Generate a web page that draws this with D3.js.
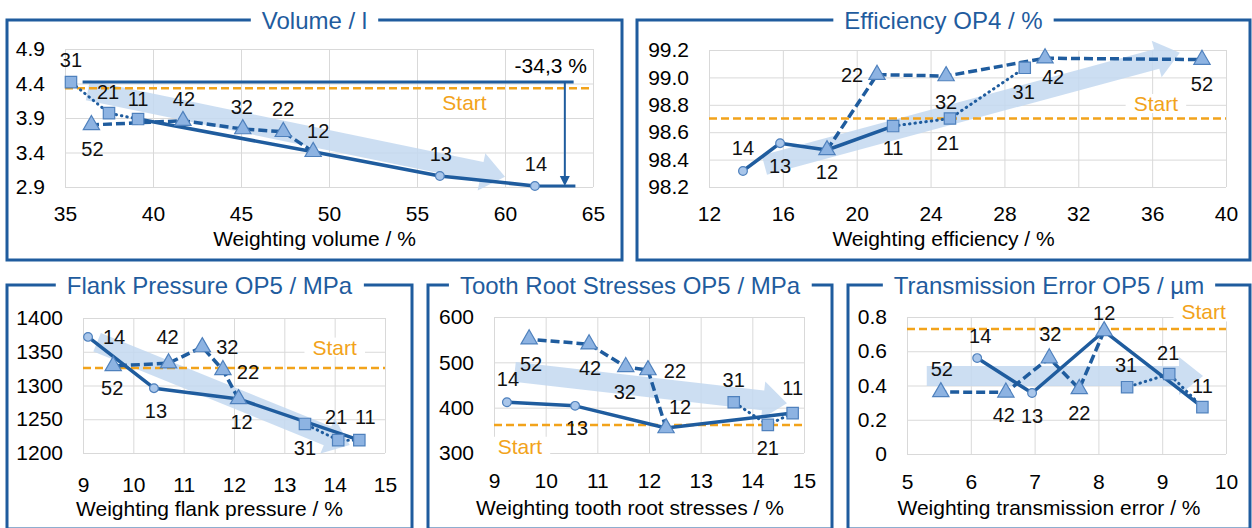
<!DOCTYPE html>
<html>
<head>
<meta charset="utf-8">
<script src="https://cdn.jsdelivr.net/npm/d3@7"></script>
<style>
  body { margin: 0; background: #fff; }
  svg { display: block; }
</style>
</head>
<body>
<svg id="chart" width="1252" height="528"></svg>
<script>
// point names: first digit = step, second digit = variant
const pointIds = ["11", "12", "13", "14", "21", "31", "22", "32", "42", "52"];
const solidPath = ["11", "12", "13", "14"];
const dottedPath = ["11", "21", "31"];
const dashedPath = ["12", "22", "32", "42", "52"];

const titles = ["Volume / l", "Efficiency OP4 / %", "Flank Pressure OP5 / MPa",
  "Tooth Root Stresses OP5 / MPa", "Transmission Error OP5 / µm"];
const axisTitles = ["Weighting volume / %", "Weighting efficiency / %", "Weighting flank pressure / %",
  "Weighting tooth root stresses / %", "Weighting transmission error / %"];

const volumeX = [39.15, 49.1, 56.3, 61.7, 37.5, 35.34, 47.4, 45.1, 41.7, 36.5];
const volumeY = [3.885, 3.41, 3.06, 2.915, 3.97, 4.42, 3.70, 3.74, 3.86, 3.80];

const effX = [21.97, 18.39, 15.85, 13.84, 25.05, 29.1, 21.1, 24.84, 30.2, 38.7];
const effY = [98.645, 98.47, 98.52, 98.317, 98.70, 99.07, 99.02, 99.01, 99.14, 99.13];

const flankX = [14.49, 12.09, 10.41, 9.1, 14.07, 13.41, 11.78, 11.37, 10.7, 9.6];
const flankY = [1219, 1280, 1296, 1372, 1219, 1243, 1323, 1357, 1333, 1329];

const rootX = [14.78, 12.33, 10.57, 9.25, 14.3, 13.64, 11.98, 11.55, 10.84, 9.68];
const rootY = [388, 355, 404, 412, 362, 412, 483, 490, 540, 551];

const teX = [9.63, 8.09, 6.96, 6.1, 9.11, 8.45, 7.70, 7.23, 6.55, 5.53];
const teY = [0.274, 0.718, 0.356, 0.56, 0.467, 0.39, 0.38, 0.56, 0.36, 0.362];

const startValues = [4.33, 98.7, 1326, 362, 0.73];

const volumeXTicks = [35, 40, 45, 50, 55, 60, 65];
const volumeYTicks = [2.9, 3.4, 3.9, 4.4, 4.9];
const effXTicks = [12, 16, 20, 24, 28, 32, 36, 40];
const effYTicks = [98.2, 98.4, 98.6, 98.8, 99.0, 99.2];
const flankXTicks = [9, 10, 11, 12, 13, 14, 15];
const flankYTicks = [1200, 1250, 1300, 1350, 1400];
const rootXTicks = [9, 10, 11, 12, 13, 14, 15];
const rootYTicks = [300, 400, 500, 600];
const teXTicks = [5, 6, 7, 8, 9, 10];
const teYTicks = [0, 0.2, 0.4, 0.6, 0.8];

// trend arrows (start / tip, in data units)
const trendFrom = [[36.3, 4.30], [15.0, 98.36], [9.28, 1364], [9.4, 479], [5.31, 0.455]];
const trendTo = [[60.0, 3.05], [37.5, 99.18], [14.3, 1212], [14.67, 410], [9.64, 0.455]];

const volumeChange = "-34,3 %";

// ---- layout ----
const FONT = "'Liberation Sans', Arial, sans-serif";
const navy = "#1f5c9e";
const orange = "#f2a31b";
const grid = "#d9d9d9";

const layout = [
  { frame: [7, 20, 622, 260], plot: [65, 49, 593, 187], tickPad: 19, titleDy: 59, start: [57.7, 4.13],
    labels: { 31: [0, -22], 21: [-1, -21], 11: [0, -20], 42: [1, -22], 52: [1, 24], 32: [-1, -22], 22: [0, -23], 12: [5, -21], 13: [1, -22], 14: [1, -22] } },
  { frame: [637, 20, 1250, 260], plot: [709, 50, 1226, 187], tickPad: 19, titleDy: 59, start: [36.2, 98.81],
    labels: { 14: [0, -23], 13: [0, 23], 12: [0, 22], 11: [0, 22], 22: [-25, 0], 32: [0, 26], 21: [-2, 24], 31: [-1, 24], 42: [8, 19], 52: [0, 24] } },
  { frame: [7, 285, 412, 529], plot: [83, 318, 385, 453], tickPad: 24, titleDy: 63, start: [14.0, 1357],
    labels: { 14: [26, 0], 52: [-1, 22], 42: [-1, -26], 32: [25, 0], 22: [25, 2], 13: [2, 23], 12: [3, 23], 31: [0, 24], 21: [-2, -23], 11: [6, -23] } },
  { frame: [428, 285, 832, 529], plot: [494, 317, 804, 453], tickPad: 20, titleDy: 62, start: [9.5, 315],
    labels: { 14: [1, -23], 52: [2, 25], 42: [1, 24], 32: [-1, 25], 22: [27, 1], 12: [14, -21], 13: [2, 22], 31: [0, -22], 21: [0, 23], 11: [0, -25] } },
  { frame: [848, 285, 1250, 529], plot: [907, 317, 1226, 454], tickPad: 20, titleDy: 61, start: [9.65, 0.83],
    labels: { 52: [1, -23], 42: [-2, 22], 13: [0, 23], 22: [0, 24], 32: [1, -24], 12: [0, -18], 14: [3, -22], 31: [-1, -22], 21: [-1, -21], 11: [0, -21] } }
];

const fmt1 = d3.format(".1f");
const panels = [
  { xs: volumeX, ys: volumeY, xTicks: volumeXTicks, yTicks: volumeYTicks, yFormat: fmt1 },
  { xs: effX, ys: effY, xTicks: effXTicks, yTicks: effYTicks, yFormat: fmt1 },
  { xs: flankX, ys: flankY, xTicks: flankXTicks, yTicks: flankYTicks, yFormat: d3.format("d") },
  { xs: rootX, ys: rootY, xTicks: rootXTicks, yTicks: rootYTicks, yFormat: d3.format("d") },
  { xs: teX, ys: teY, xTicks: teXTicks, yTicks: teYTicks, yFormat: d => d === 0 ? "0" : fmt1(d) }
];

const svg = d3.select("#chart").attr("font-family", FONT);

function arrowPoints(x0, y0, x1, y1, w, hw, hl) {
  const len = Math.hypot(x1 - x0, y1 - y0);
  const ux = (x1 - x0) / len, uy = (y1 - y0) / len;
  const nx = -uy, ny = ux;
  const bx = x1 - ux * hl, by = y1 - uy * hl;
  return [
    [x0 + nx * w / 2, y0 + ny * w / 2], [bx + nx * w / 2, by + ny * w / 2],
    [bx + nx * hw / 2, by + ny * hw / 2], [x1, y1],
    [bx - nx * hw / 2, by - ny * hw / 2], [bx - nx * w / 2, by - ny * w / 2],
    [x0 - nx * w / 2, y0 - ny * w / 2]
  ];
}

panels.forEach((p, i) => {
  const L = layout[i];
  const [fx0, fy0, fx1, fy1] = L.frame;
  const [px0, py0, px1, py1] = L.plot;
  const x = d3.scaleLinear().domain(d3.extent(p.xTicks)).range([px0, px1]);
  const y = d3.scaleLinear().domain(d3.extent(p.yTicks)).range([py1, py0]);
  const pts = pointIds.map((id, k) => ({ id: id, x: p.xs[k], y: p.ys[k] }));
  const byId = {};
  pts.forEach(d => byId[d.id] = d);

  const g = svg.append("g");

  // frame + title
  g.append("rect")
    .attr("x", fx0).attr("y", fy0)
    .attr("width", fx1 - fx0).attr("height", fy1 - fy0)
    .attr("fill", "none").attr("stroke", navy).attr("stroke-width", 3);
  const title = g.append("text")
    .attr("x", (fx0 + fx1) / 2).attr("y", fy0).attr("dy", "0.36em")
    .attr("text-anchor", "middle").attr("font-size", 24).attr("fill", navy)
    .text(titles[i]);
  const tb = title.node().getBBox();
  g.insert("rect", () => title.node())
    .attr("x", tb.x - 11).attr("y", fy0 - 4).attr("width", tb.width + 22).attr("height", 8)
    .attr("fill", "#fff");

  // grid + tick labels
  g.append("g")
    .attr("transform", "translate(0," + py1 + ")")
    .call(d3.axisBottom(x).tickValues(p.xTicks).tickSize(-(py1 - py0)).tickPadding(L.tickPad).tickFormat(d3.format("d")))
    .call(a => {
      a.attr("font-family", FONT);
      a.select(".domain").remove();
      a.selectAll("line").attr("stroke", grid);
      a.selectAll("text").attr("font-size", 21).attr("fill", "#000");
    });
  g.append("g")
    .attr("transform", "translate(" + px0 + ",0)")
    .call(d3.axisLeft(y).tickValues(p.yTicks).tickSize(-(px1 - px0)).tickPadding(20).tickFormat(p.yFormat))
    .call(a => {
      a.attr("font-family", FONT);
      a.select(".domain").remove();
      a.selectAll("line").attr("stroke", grid);
      a.selectAll("text").attr("font-size", 21).attr("fill", "#000");
    });

  g.append("text")
    .attr("x", (fx0 + fx1) / 2).attr("y", py1 + L.titleDy)
    .attr("text-anchor", "middle").attr("font-size", 21).attr("fill", "#000")
    .text(axisTitles[i]);

  // trend arrow
  const a0 = trendFrom[i], a1 = trendTo[i];
  g.append("polygon")
    .attr("points", arrowPoints(x(a0[0]), y(a0[1]), x(a1[0]), y(a1[1]), 20, 38, 24).map(q => q.join(",")).join(" "))
    .attr("fill", "#c3d8f0").attr("opacity", 0.85);

  // start line + label
  g.append("line")
    .attr("x1", px0).attr("x2", px1)
    .attr("y1", y(startValues[i])).attr("y2", y(startValues[i]))
    .attr("stroke", orange).attr("stroke-width", 2.5).attr("stroke-dasharray", "8,4");
  const st = g.append("text")
    .attr("x", x(L.start[0])).attr("y", y(L.start[1])).attr("dy", "0.36em")
    .attr("text-anchor", "middle").attr("font-size", 21).attr("fill", orange)
    .text("Start");
  const sb = st.node().getBBox();
  g.insert("rect", () => st.node())
    .attr("x", sb.x - 8).attr("y", sb.y + 2).attr("width", sb.width + 16).attr("height", sb.height - 4)
    .attr("fill", "#fff");

  // series lines
  const line = d3.line().x(d => x(d.x)).y(d => y(d.y));
  g.append("path").datum(dashedPath.map(id => byId[id]))
    .attr("d", line).attr("fill", "none").attr("stroke", navy)
    .attr("stroke-width", 3.5).attr("stroke-dasharray", "9,4");
  g.append("path").datum(dottedPath.map(id => byId[id]))
    .attr("d", line).attr("fill", "none").attr("stroke", navy)
    .attr("stroke-width", 3).attr("stroke-linecap", "round").attr("stroke-dasharray", "0.5,5");
  g.append("path").datum(solidPath.map(id => byId[id]))
    .attr("d", line).attr("fill", "none").attr("stroke", navy)
    .attr("stroke-width", 3.5).attr("stroke-linejoin", "round");

  // volume reduction annotation
  if (i === 0) {
    const top = d3.max(volumeY), bottom = d3.min(volumeY);
    const ax = x(63.4);
    g.append("line").attr("x1", x(36.0)).attr("x2", x(63.9)).attr("y1", y(top)).attr("y2", y(top))
      .attr("stroke", navy).attr("stroke-width", 3);
    g.append("line").attr("x1", x(61.7)).attr("x2", x(64.0)).attr("y1", y(bottom)).attr("y2", y(bottom))
      .attr("stroke", navy).attr("stroke-width", 3);
    g.append("line").attr("x1", ax).attr("x2", ax).attr("y1", y(top)).attr("y2", y(bottom) - 8)
      .attr("stroke", navy).attr("stroke-width", 2);
    g.append("polygon")
      .attr("points", [[ax - 5, y(bottom) - 10], [ax + 5, y(bottom) - 10], [ax, y(bottom)]].map(q => q.join(",")).join(" "))
      .attr("fill", navy);
    g.append("text").attr("x", x(62.6)).attr("y", y(4.55))
      .attr("text-anchor", "middle").attr("font-size", 21).attr("fill", "#000")
      .text(volumeChange);
  }

  // markers
  const shape = id => id[1] === "1" ? d3.symbolSquare : (id[1] === "2" ? d3.symbolTriangle : d3.symbolCircle);
  const size = id => id[1] === "1" ? 130 : (id[1] === "2" ? 115 : 60);
  g.selectAll(".mk").data(pts).enter().append("path")
    .attr("transform", d => "translate(" + x(d.x) + "," + y(d.y) + ")")
    .attr("d", d => d3.symbol().type(shape(d.id)).size(size(d.id))())
    .attr("fill", d => id2fill(d.id)).attr("stroke", "#4f81bd").attr("stroke-width", 1.2);

  // point labels
  g.selectAll(".lb").data(pts).enter().append("text")
    .attr("x", d => x(d.x) + L.labels[d.id][0])
    .attr("y", d => y(d.y) + L.labels[d.id][1])
    .attr("dy", "0.36em").attr("text-anchor", "middle")
    .attr("font-size", 20).attr("fill", "#111")
    .text(d => d.id);
});

function id2fill(id) {
  return (id === "13" || id === "14") ? "#a9c6ea" : "#8db3e2";
}
</script>
</body>
</html>
